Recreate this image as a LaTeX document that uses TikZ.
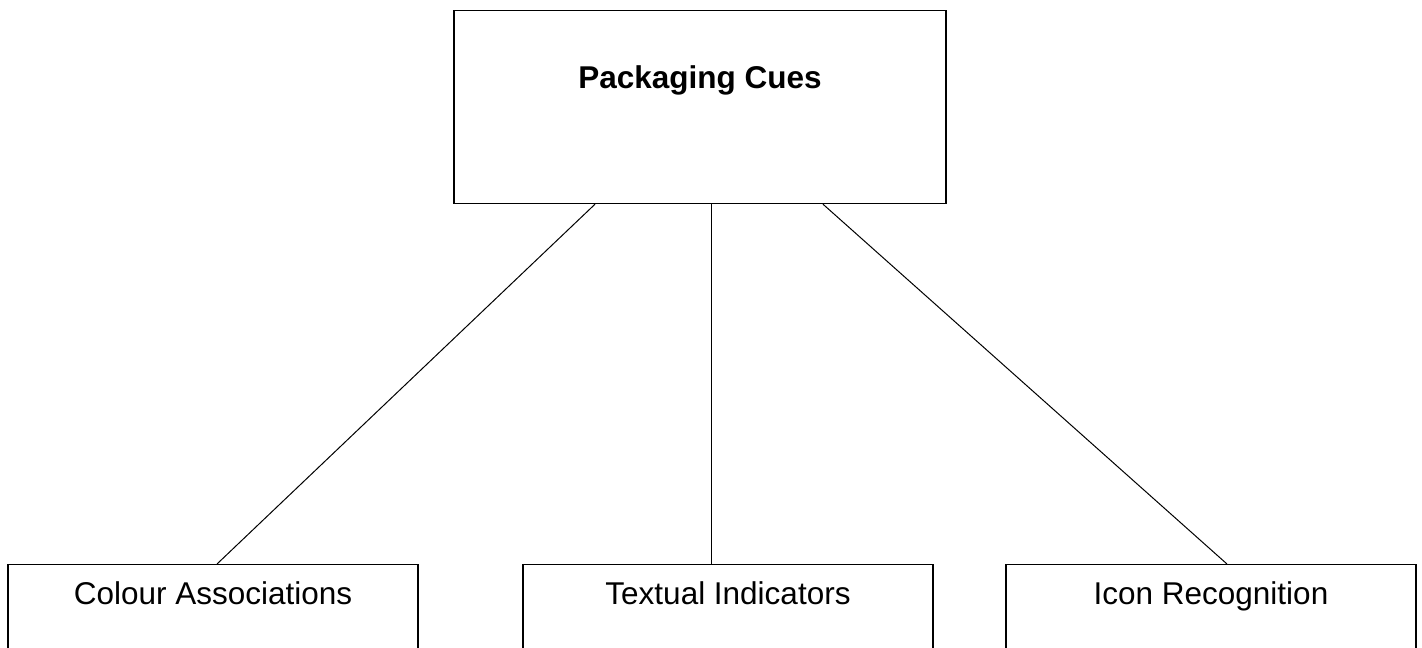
\documentclass[tikz,border=0pt]{standalone}
\usepackage{fontspec}
\setmainfont{Liberation Sans}
\tikzset{
  cuebox/.style={draw, line width=1.2pt, inner sep=0pt, anchor=north,
                 font=\fontsize{31.5}{38}\selectfont},
  headbox/.style={cuebox, minimum width=492pt, text height=78pt, text depth=115pt,
                  font=\fontsize{31.5}{38}\selectfont\bfseries},
  leafbox/.style={cuebox, minimum width=410pt, text height=40pt, text depth=100pt},
  link/.style={line width=1pt},
}
\begin{document}
\begin{tikzpicture}[x=1pt, y=-1pt]
    \useasboundingbox (0,0) rectangle (1422,648);
    \clip (0,0) rectangle (1422,648);
    \node[headbox] (cues) at (700, 10) {Packaging Cues};
    \node[leafbox] (colour) at (213, 564) {Colour Associations};
    \node[leafbox] (textual) at (728, 564) {Textual Indicators};
    \node[leafbox] (icon) at (1211, 564) {Icon Recognition};
    \draw[link] ([xshift=-105pt]cues.south) -- ([xshift=4pt]colour.north);
    \draw[link] ([xshift=11pt]cues.south) -- ([xshift=-17pt]textual.north);
    \draw[link] ([xshift=123pt]cues.south) -- ([xshift=16pt]icon.north);
  \end{tikzpicture}
\end{document}
